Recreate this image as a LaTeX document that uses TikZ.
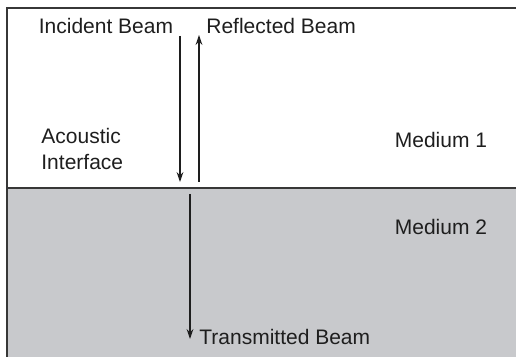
\documentclass[tikz,border=0pt]{standalone}
\usepackage{fontspec}
\setmainfont{Liberation Sans}
\usetikzlibrary{arrows.meta}
\definecolor{medtwo}{RGB}{200,201,204}
\definecolor{edge}{RGB}{55,55,55}
\definecolor{ink}{RGB}{30,30,30}
\begin{document}
\begin{tikzpicture}[x=0.5pt,y=-0.5pt,
  lbl/.style={inner sep=0pt,text=ink,font=\fontsize{10.5}{13}\selectfont},
  beam/.style={draw=ink,line width=0.7pt,-{Stealth[length=5pt,width=3.4pt]}},
  wall/.style={draw=edge,line width=1pt}]
\useasboundingbox (0,0) rectangle (516,357);
\fill[medtwo] (7,188) rectangle (516,357);
\draw[wall] (516,8) -- (7,8) -- (7,357);
\draw[wall] (7,188) -- (516,188);
% beams
\coordinate (incS) at (180,36);
\coordinate (incE) at (180,182);
\coordinate (refS) at (199,182);
\coordinate (refE) at (199,35);
\coordinate (trS) at (190,194);
\coordinate (trE) at (190,339);
\draw[beam] (incS) -- (incE);
\draw[beam] (refS) -- (refE);
\draw[beam] (trS) -- (trE);
% labels
\node[lbl] (inc) at (106,26) {Incident Beam};
\node[lbl,anchor=west] (ref) at (206,26) {Reflected Beam};
\node[lbl,anchor=west,align=left] (ai) at (41,149) {Acoustic\\Interface};
\node[lbl] (m1) at (441,140) {Medium 1};
\node[lbl] (m2) at (441,227) {Medium 2};
\node[lbl,anchor=west] (tr) at (199,337) {Transmitted Beam};
\end{tikzpicture}
\end{document}
